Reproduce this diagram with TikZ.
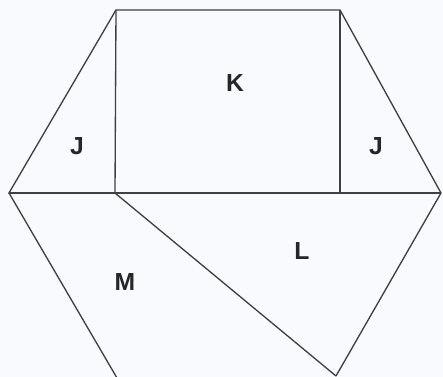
\documentclass[tikz,border=0pt]{standalone}
\usepackage{fontspec}
\setmainfont{Liberation Sans}
\colorlet{edge_col}{black!75}
\definecolor{paper_col}{RGB}{249,250,253}

\begin{document}
\begin{tikzpicture}[x=0.75pt, y=-0.75pt,
                    region/.style={font=\fontsize{18.5}{18.5}\selectfont\bfseries, text=black!85, inner sep=0pt},
                    edge/.style={draw=edge_col, line width=1pt, line join=miter}]

  \fill[paper_col] (0,0) rectangle (443,377);
  \useasboundingbox (0,0) rectangle (443,377);

  % Corners
  \coordinate (tl) at (116,10);
  \coordinate (tr) at (340,10);
  \coordinate (lv) at (9,193);
  \coordinate (rv) at (441,193);
  \coordinate (ml) at (115,193);
  \coordinate (mr) at (340,193);
  \coordinate (bl) at (117,378);
  \coordinate (br) at (336,376);

  % Edges
  \draw[edge] (ml) -- (lv) -- (tl) -- (tr) -- (rv) -- (br);
  \draw[edge] (tl) -- (ml) -- (br);
  \draw[edge] (tr) -- (mr);
  \draw[edge] (lv) -- (rv);
  \draw[edge] (lv) -- (bl);

  % Region labels
  \node[region] (k) at (235,83) {K};
  \node[region] (j1) at (77,146) {J};
  \node[region] (j2) at (376,146) {J};
  \node[region] (l) at (302,251) {L};
  \node[region] (m) at (125,282) {M};

\end{tikzpicture}
\end{document}
